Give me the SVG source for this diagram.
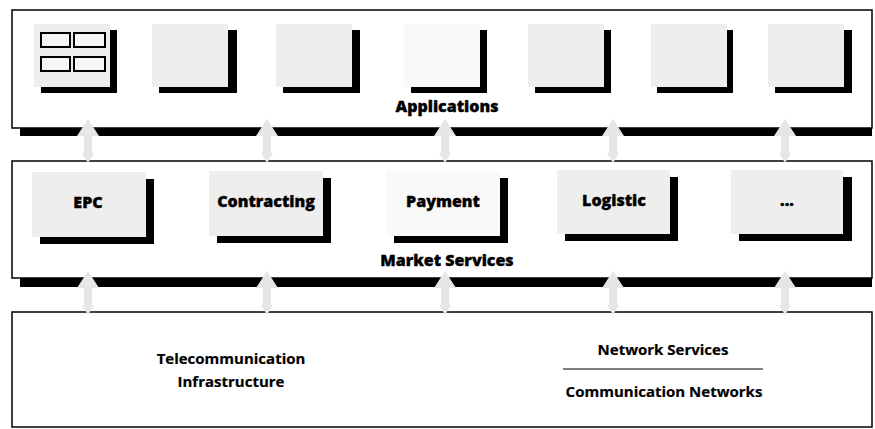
<svg xmlns="http://www.w3.org/2000/svg" width="875" height="429" viewBox="0 0 875 429">
<style>
.panel{fill:#ffffff;stroke:#000;stroke-width:1.5}
.bar{fill:#000}
.box{fill:#eeeeee}
.boxw{fill:#f9f9f9}
.shadow{fill:#000}
.mini{fill:#f6f6f6;stroke:#000;stroke-width:2}
.lbl{font-family:"Open Sans","Noto Sans",sans-serif;font-weight:800;font-size:16px;fill:#000;stroke:#000;stroke-width:0.35;text-anchor:middle}
.lbl2{font-family:"Open Sans","Noto Sans",sans-serif;font-weight:bold;font-size:15px;fill:#000;stroke:#000;stroke-width:0.2;text-anchor:middle}
.arrow{fill:#e6e6e6}
</style>
<rect width="875" height="429" fill="#fff"/>

<g id="applications">
  <rect class="panel" x="12" y="10" width="860" height="118"/>
  <rect class="bar" x="20" y="128" width="852" height="8"/>
  <g id="app1">
    <rect class="shadow" x="41" y="30" width="76" height="63"/>
    <rect class="box" x="34" y="24" width="76" height="63"/>
    <rect class="mini" x="41" y="33" width="29" height="14"/>
    <rect class="mini" x="74" y="33" width="31" height="14"/>
    <rect class="mini" x="41" y="57" width="29" height="14"/>
    <rect class="mini" x="74" y="57" width="31" height="14"/>
  </g>
  <g id="app2"><rect class="shadow" x="159" y="30" width="78" height="63"/><rect class="box" x="152" y="24" width="76" height="63"/></g>
  <g id="app3"><rect class="shadow" x="283" y="30" width="77" height="63"/><rect class="box" x="276" y="24" width="76" height="63"/></g>
  <g id="app4"><rect class="shadow" x="411" y="30" width="76" height="63"/><rect class="boxw" x="404" y="24" width="76" height="63"/></g>
  <g id="app5"><rect class="shadow" x="535" y="30" width="76" height="63"/><rect class="box" x="528" y="24" width="76" height="63"/></g>
  <g id="app6"><rect class="shadow" x="657" y="30" width="76" height="63"/><rect class="box" x="651" y="24" width="76" height="63"/></g>
  <g id="app7"><rect class="shadow" x="775" y="30" width="77" height="63"/><rect class="box" x="768" y="24" width="76" height="63"/></g>
  <text class="lbl" x="447" y="112">Applications</text>
</g>

<g id="market-services">
  <rect class="panel" x="12" y="161" width="860" height="117"/>
  <rect class="bar" x="20" y="278" width="852" height="9"/>
  <g id="epc"><rect class="shadow" x="40" y="179" width="114" height="65"/><rect class="box" x="32" y="172" width="114" height="65"/><text class="lbl" x="88" y="208">EPC</text></g>
  <g id="contracting"><rect class="shadow" x="217" y="178" width="114" height="65"/><rect class="box" x="209" y="171" width="114" height="65"/><text class="lbl" x="266" y="207">Contracting</text></g>
  <g id="payment"><rect class="shadow" x="394" y="178" width="114" height="65"/><rect class="boxw" x="386" y="171" width="114" height="65"/><text class="lbl" x="443" y="207">Payment</text></g>
  <g id="logistic"><rect class="shadow" x="565" y="177" width="113" height="64"/><rect class="box" x="557" y="170" width="113" height="64"/><text class="lbl" x="614" y="206">Logistic</text></g>
  <g id="more"><rect class="shadow" x="739" y="177" width="113" height="64"/><rect class="box" x="731" y="170" width="112" height="64"/><text class="lbl" x="787" y="206">...</text></g>
  <text class="lbl" x="447" y="266">Market Services</text>
</g>

<g id="telecom-infrastructure">
  <rect class="panel" x="12" y="312" width="860" height="115"/>
  <text class="lbl2" x="231" y="364">Telecommunication</text>
  <text class="lbl2" x="231" y="387">Infrastructure</text>
  <text class="lbl2" x="663" y="355">Network Services</text>
  <line x1="563" y1="369" x2="763" y2="369" stroke="#000" stroke-width="1.2"/>
  <text class="lbl2" x="664" y="397">Communication Networks</text>
</g>

<g id="connectors">
  <defs>
    <polygon id="dblarrow" points="0,0 -11,17 -4,17 -4,34 -6,34 0,44 6,34 4,34 4,17 11,17"/>
  </defs>
  <use href="#dblarrow" class="arrow" x="88" y="119"/>
  <use href="#dblarrow" class="arrow" x="267" y="119"/>
  <use href="#dblarrow" class="arrow" x="445" y="119"/>
  <use href="#dblarrow" class="arrow" x="613" y="119"/>
  <use href="#dblarrow" class="arrow" x="785" y="119"/>
  <use href="#dblarrow" class="arrow" x="88" y="271"/>
  <use href="#dblarrow" class="arrow" x="267" y="271"/>
  <use href="#dblarrow" class="arrow" x="445" y="271"/>
  <use href="#dblarrow" class="arrow" x="613" y="271"/>
  <use href="#dblarrow" class="arrow" x="785" y="271"/>
</g>
</svg>
